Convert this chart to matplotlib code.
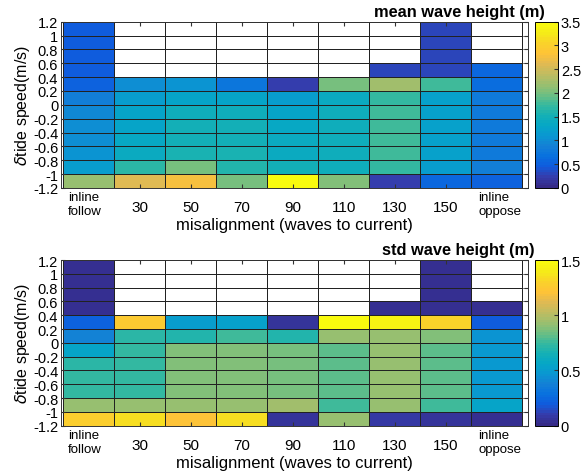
import numpy as np
import matplotlib
matplotlib.use('Agg')
from matplotlib import pyplot as plt
from matplotlib.colors import LinearSegmentedColormap
from matplotlib.ticker import FuncFormatter

plt.rcParams['font.family'] = ['Liberation Sans', 'DejaVu Sans']
plt.rcParams['axes.unicode_minus'] = False

# misalignment bins (deg) and tide speed bins (m/s)
misalign = [10, 30, 50, 70, 90, 110, 130, 150, 170]
xticks = [30, 50, 70, 90, 110, 130, 150]
tide_edges = np.round(np.arange(-1.2, 1.21, 0.2), 1)
tide_labels = ['-1.2', '-1', '-0.8', '-0.6', '-0.4', '-0.2', '0',
               '0.2', '0.4', '0.6', '0.8', '1', '1.2']

nan = np.nan
# rows: tide speed bins from -1.2 upward; columns: misalignment bins
mean_h = np.array([
    [2.15, 2.6, 2.75, 2.0, 3.5, 2.05, 0.25, 0.55, 0.5],
    [1.2, 1.65, 2.0, 1.6, 1.5, 1.45, 1.7, 1.2, 0.85],
    [1.07, 1.4, 1.55, 1.55, 1.4, 1.45, 1.75, 1.25, 0.8],
    [1.0, 1.35, 1.5, 1.5, 1.4, 1.45, 1.75, 1.25, 0.8],
    [1.0, 1.3, 1.5, 1.5, 1.35, 1.45, 1.75, 1.25, 0.8],
    [0.93, 1.3, 1.45, 1.45, 1.3, 1.45, 1.75, 1.25, 0.8],
    [0.85, 1.15, 1.3, 1.3, 1.2, 1.4, 1.7, 1.25, 0.8],
    [0.5, 1.0, 1.05, 0.75, 0.25, 2.0, 2.2, 1.75, 0.65],
    [0.45, nan, nan, nan, nan, nan, 0.3, 0.3, 0.55],
    [0.45, nan, nan, nan, nan, nan, nan, 0.3, nan],
    [0.45, nan, nan, nan, nan, nan, nan, 0.3, nan],
    [0.45, nan, nan, nan, nan, nan, nan, 0.3, nan],
])

std_h = np.array([
    [1.28, 1.35, 1.2, 1.35, 0.05, 0.93, 0.08, 0.06, 0.03],
    [0.93, 0.93, 0.93, 0.93, 0.95, 0.77, 0.93, 0.77, 0.55],
    [0.74, 0.73, 0.87, 0.87, 0.85, 0.8, 0.92, 0.8, 0.48],
    [0.74, 0.73, 0.87, 0.87, 0.85, 0.8, 0.92, 0.8, 0.48],
    [0.72, 0.73, 0.87, 0.87, 0.85, 0.8, 0.92, 0.8, 0.48],
    [0.55, 0.73, 0.87, 0.87, 0.85, 0.8, 0.92, 0.8, 0.48],
    [0.38, 0.72, 0.7, 0.76, 0.68, 0.93, 0.93, 0.87, 0.45],
    [0.22, 1.26, 0.5, 0.52, 0.05, 1.5, 1.43, 1.3, 0.2],
    [0.03, nan, nan, nan, nan, nan, 0.04, 0.04, 0.03],
    [0.03, nan, nan, nan, nan, nan, nan, 0.04, nan],
    [0.03, nan, nan, nan, nan, nan, nan, 0.04, nan],
    [0.03, nan, nan, nan, nan, nan, nan, 0.04, nan],
])

# parula-like colour map
parula = LinearSegmentedColormap.from_list('parula', [
    (0.2081, 0.1663, 0.5292), (0.2081, 0.2386, 0.6771), (0.0591, 0.3598, 0.8683),
    (0.0329, 0.4430, 0.8720), (0.0779, 0.5040, 0.8384), (0.0343, 0.5966, 0.8199),
    (0.0228, 0.6535, 0.7768), (0.0843, 0.6928, 0.7062), (0.2178, 0.7250, 0.6193),
    (0.4420, 0.7481, 0.5033), (0.6099, 0.7473, 0.4337), (0.7525, 0.7384, 0.3768),
    (0.8824, 0.7274, 0.3217), (0.9990, 0.7653, 0.2164), (0.9789, 0.8271, 0.1633),
    (0.9598, 0.9218, 0.0948), (0.9763, 0.9831, 0.0538)], N=64)

x_edges = np.arange(0, 181, 20)

fig = plt.figure(figsize=(5.85, 4.77), dpi=100)


def panel(rect, crect, data, vmax, cticks, title, title_pos):
    ax = fig.add_axes(rect)
    for y in tide_edges:
        ax.axhline(y, color='#707070', lw=0.6, zorder=0)
    for x in x_edges:
        ax.axvline(x, color='#404040', lw=0.6, zorder=0)
    m = ax.pcolormesh(x_edges, tide_edges, np.ma.masked_invalid(data),
                      cmap=parula, vmin=0, vmax=vmax,
                      edgecolor='#222222', linewidth=0.5, zorder=1)
    ax.set_xlim(-0.8, 182.2)
    ax.set_ylim(-1.2, 1.2)
    ax.set_yticks(tide_edges)
    ax.set_yticklabels(tide_labels)
    ax.set_xticks(xticks)
    ax.tick_params(direction='in', top=True, right=True, length=3,
                   labelsize=10.5, pad=2, color='#333333')
    ax.tick_params(axis='x', pad=9, labelsize=11)
    for s in ax.spines.values():
        s.set_color('#333333')
        s.set_linewidth(0.7)
        s.set_zorder(3)
    ax.set_ylabel(r'$\delta$tide speed(m/s)', fontsize=11.5, labelpad=1)
    ax.set_xlabel('misalignment (waves to current)', fontsize=12, labelpad=2)
    ax.text(2, -1.245, 'inline\nfollow', fontsize=9.5, va='top', ha='left',
            linespacing=1.2)
    ax.text(162.6, -1.245, 'inline\noppose', fontsize=9.5, va='top', ha='left',
            linespacing=1.2)
    cax = fig.add_axes(crect)
    cb = fig.colorbar(m, cax=cax, ticks=cticks)
    cb.ax.tick_params(direction='in', length=3, labelsize=10.5, pad=2,
                      color='#333333')
    cb.ax.yaxis.set_major_formatter(FuncFormatter(lambda v, p: '%g' % v))
    cb.outline.set_linewidth(0.7)
    fig.text(title_pos[0], title_pos[1], title, fontsize=11.8, fontweight='bold',
             ha='right', va='center')


panel([0.1043, 0.6038, 0.7983, 0.3486], [0.9145, 0.6038, 0.0393, 0.3486],
      mean_h, 3.5, [0, 0.5, 1, 1.5, 2, 2.5, 3, 3.5], 'mean wave height (m)',
      (545 / 585, 1 - 13 / 477))
panel([0.1043, 0.1055, 0.7983, 0.3473], [0.9145, 0.1055, 0.0393, 0.3473],
      std_h, 1.5, [0, 0.5, 1, 1.5], 'std wave height (m)',
      (535 / 585, 1 - 250 / 477))

fig.savefig('out.png', dpi=100)
